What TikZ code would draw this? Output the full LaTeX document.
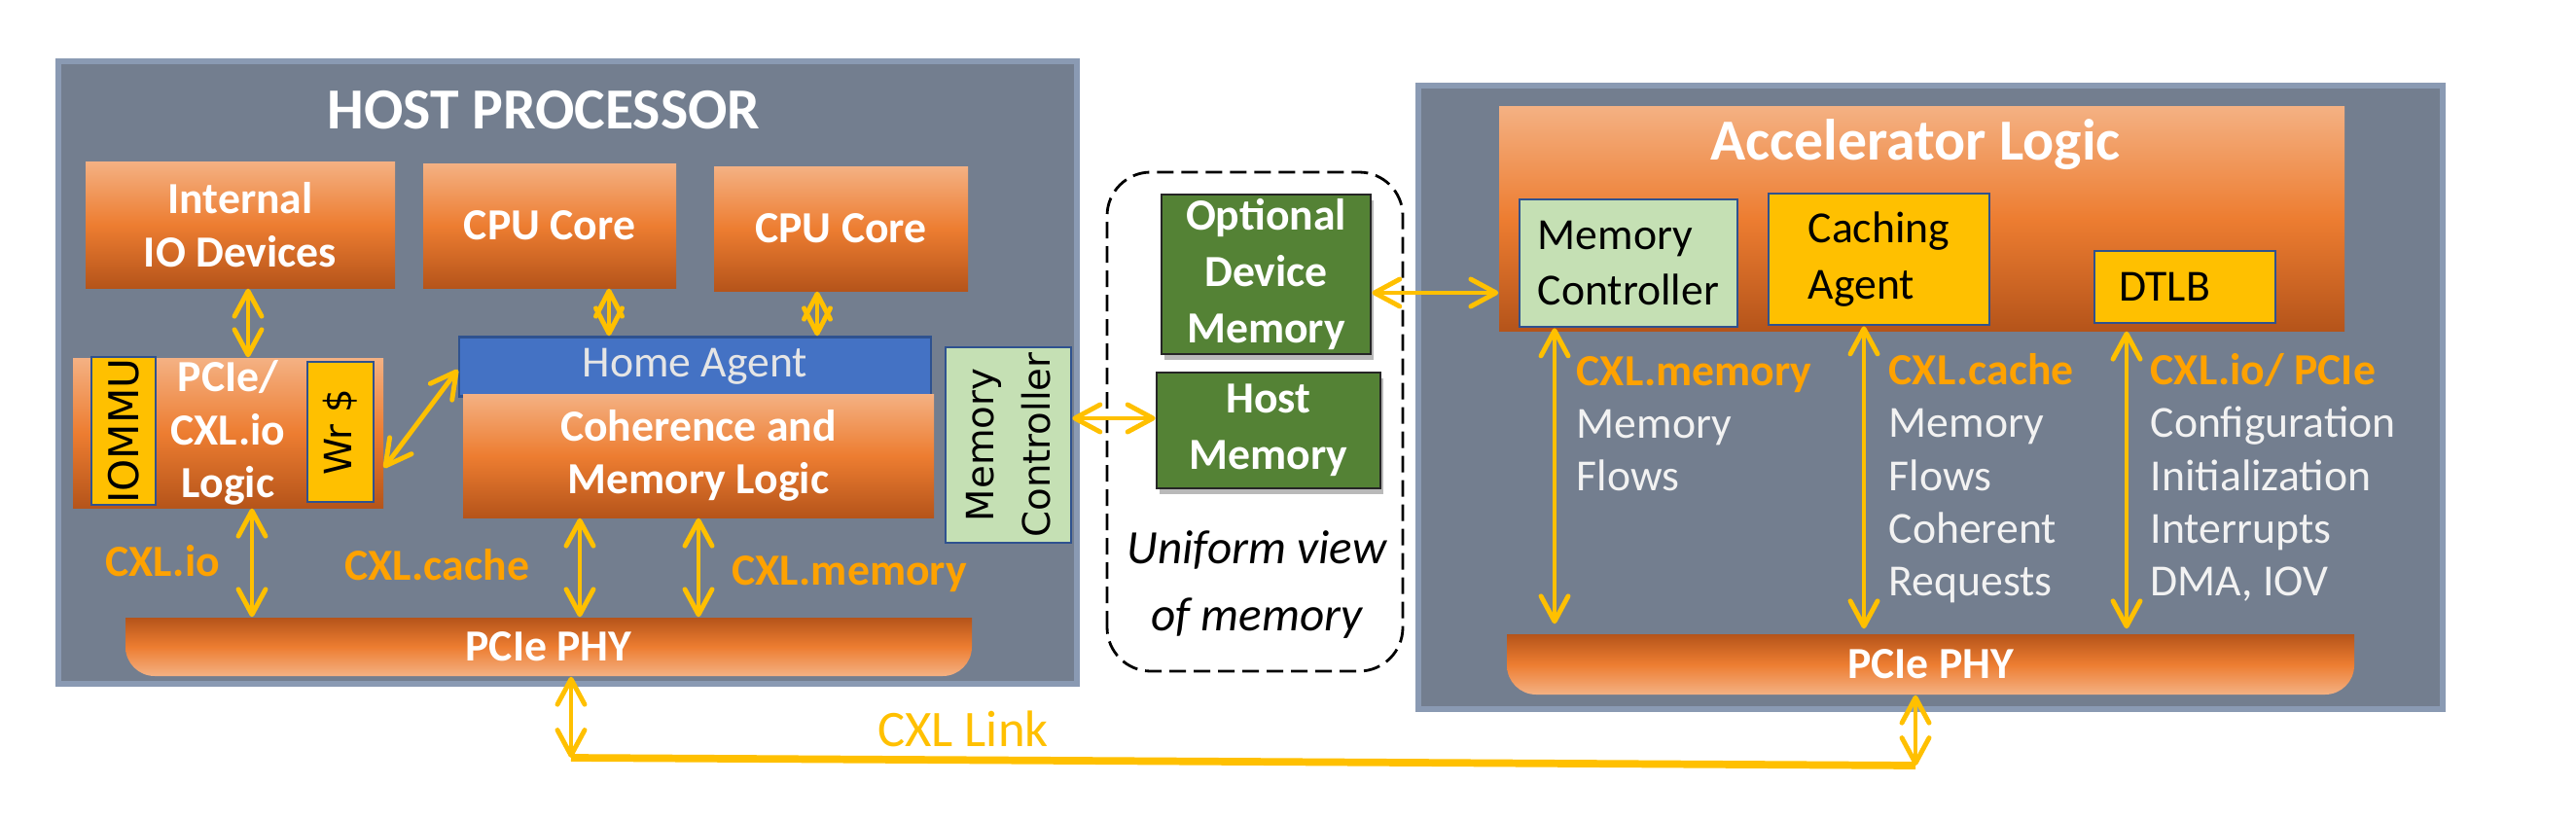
\documentclass[tikz,border=0pt]{standalone}
\usepackage{fontspec}
\setmainfont{Carlito}
\newfontfamily\vfont{DejaVu Sans}
\usetikzlibrary{arrows.meta,shadows}

\definecolor{panel}{HTML}{737E8F}
\definecolor{panelrim}{HTML}{8A9AB3}
\definecolor{otop}{HTML}{F4B183}
\definecolor{omid}{HTML}{ED7D31}
\definecolor{obot}{HTML}{B5541A}
\definecolor{haBlue}{HTML}{4472C4}
\definecolor{rim}{HTML}{2F528F}
\definecolor{gold}{HTML}{FFC000}
\definecolor{lblOrange}{HTML}{FFA200}
\definecolor{mint}{HTML}{C5E0B4}
\definecolor{leaf}{HTML}{548235}

\newcommand{\fs}[2]{\fontsize{#1}{#2}\selectfont}

\tikzset{
	wh/.style 2 args={minimum width=#1, minimum height=#2},
	panel/.style={fill=panel, draw=panelrim, line width=1.5pt, inner sep=0pt},
	obox/.style={top color=otop, bottom color=obot, middle color=omid, text=white, font=\bfseries\fs{13}{15.5}, align=center, inner sep=0pt},
	phyfill/.style={top color=obot, bottom color=otop, middle color=omid},
	ybox/.style={fill=gold, draw=rim, line width=0.8pt, inner sep=0pt, font=\fs{13}{16.5}},
	gbox/.style={fill=mint, draw=rim, line width=0.8pt, inner sep=0pt, font=\fs{13}{16.5}},
	mem/.style={fill=leaf, draw=black!85, line width=0.8pt, inner sep=0pt, text=white, font=\bfseries\fs{13}{16.5}, align=center, drop shadow={shadow xshift=0.03cm, shadow yshift=-0.06cm, opacity=0.55}},
	title/.style={text=white, font=\bfseries\fs{17}{17}, inner sep=0pt},
	lbl/.style={text=lblOrange, font=\bfseries\fs{13}{13}, inner sep=0pt},
	desc/.style={text=white!95!black, font=\fs{13}{15.4}, align=left, inner sep=0pt, anchor=north west},
	link/.style={draw=gold, line width=1.4pt, >={Straight Barb[length=2.6mm,width=2.8mm,round]}, <->},
	dlink/.style={draw=gold, line width=1.4pt, >={Straight Barb[length=2.6mm,width=2.7mm,round]}, <->}
}

\begin{document}
\begin{tikzpicture}
	\useasboundingbox (0,0) rectangle (26.48,8.42);
	% host processor
	\node (host) [panel, wh={10.47cm}{6.40cm}] at (5.835,4.59) {};
	\node (hosttitle) [title] at (5.59,7.29) {HOST PROCESSOR};
	\node (io) [obox, wh={3.18cm}{1.30cm}] at (2.47,6.11) {Internal\\IO Devices};
	\node (cpuA) [obox, wh={2.60cm}{1.28cm}] at (5.65,6.10) {CPU Core};
	\node (cpuB) [obox, wh={2.61cm}{1.28cm}] at (8.645,6.07) {CPU Core};
	\node (home) [fill=haBlue, draw=rim, line width=0.8pt, text=white!90!black, font=\fs{13}{13}, wh={4.85cm}{0.54cm}] at (7.145,4.65) {Home Agent};
	\node (coh) [obox, wh={4.84cm}{1.27cm}] at (7.18,3.735) {Coherence and\\Memory Logic};
	\node (logic) [obox, wh={3.19cm}{1.54cm}] at (2.345,3.97) {PCIe/\\CXL.io\\Logic};
	\node (iommu) [ybox, rotate=90, wh={1.52cm}{0.66cm}, font=\vfont\fs{12}{12}] at (1.27,3.99) {IOMMU};
	\node (wr) [ybox, rotate=90, wh={1.44cm}{0.68cm}, font=\vfont\fs{11}{11}] at (3.50,3.98) {Wr \$};
	\node (hostmc) [gbox, rotate=90, align=center, wh={2.01cm}{1.29cm}, font=\vfont\fs{11}{16.5}] at (10.365,3.845) {Memory\\Controller};
	\shade[phyfill] (1.29,2.07) -- (1.29,1.77) arc[start angle=180, end angle=270, radius=0.3] -- (9.69,1.47) arc[start angle=270, end angle=360, radius=0.3] -- (9.99,2.07) -- cycle;
	\node (hostphy) [text=white, font=\bfseries\fs{13}{13}, inner sep=0pt, wh={8.70cm}{0.60cm}] at (5.64,1.77) {PCIe PHY};
	%
	\draw[link] (2.55,0 |- io.south) -- (2.55,0 |- logic.north);
	\draw[dlink] (6.26,0 |- cpuA.south) -- (6.26,0 |- home.north);
	\draw[dlink] (8.40,0 |- cpuB.south) -- (8.40,0 |- home.north);
	\draw[link] ([yshift=-0.36cm]logic.east) -- ([yshift=-0.03cm]home.west);
	\draw[link] (2.59,0 |- logic.south) -- (2.59,0 |- hostphy.north);
	\draw[link] (5.96,0 |- coh.south) -- (5.96,0 |- hostphy.north);
	\draw[link] (coh.south) -- (coh.south |- hostphy.north);
	\node (lblio) [lbl] at (1.67,2.65) {CXL.io};
	\node (lblcache) [lbl] at (4.49,2.61) {CXL.cache};
	\node (lblmem) [lbl] at (8.73,2.52) {CXL.memory};
	% memory in the middle
	\draw[dashed, dash pattern=on 0.17cm off 0.08cm, line width=0.8pt, rounded corners=0.45cm] (11.38,1.52) rectangle (14.42,6.65);
	\node (optmem) [mem, wh={2.15cm}{1.64cm}] at (13.015,5.60) {Optional\\Device\\Memory};
	\node (hostmem) [mem, wh={2.30cm}{1.19cm}] at (13.04,3.995) {Host\\Memory};
	\node (view) [font=\itshape\fs{14}{19.6}, align=center, inner sep=0pt] at (12.92,2.41) {Uniform view\\of memory};
	\draw[link] (hostmc.south |- 0,4.12) -- (hostmem.west |- 0,4.12);
	% accelerator
	\node (acc) [panel, wh={10.53cm}{6.41cm}] at (19.845,4.335) {};
	\node (acclogic) [obox, wh={8.69cm}{2.31cm}] at (19.755,6.175) {};
	\node (acctitle) [title] at (19.69,6.93) {Accelerator Logic};
	\node (accmc) [gbox, align=left, wh={2.24cm}{1.31cm}] at (16.74,5.715) {Memory\\Controller};
	\node (caching) [ybox, align=left, wh={2.27cm}{1.35cm}] at (19.315,5.755) {Caching\\Agent};
	\node (dtlb) [ybox, align=left, text width=1.36cm, wh={1.86cm}{0.74cm}] at (22.46,5.47) {DTLB};
	\shade[phyfill] (15.49,1.90) -- (15.49,1.58) arc[start angle=180, end angle=270, radius=0.3] -- (23.90,1.28) arc[start angle=270, end angle=360, radius=0.3] -- (24.20,1.90) -- cycle;
	\node (accphy) [text=white, font=\bfseries\fs{13}{13}, inner sep=0pt, wh={8.71cm}{0.62cm}] at (19.845,1.59) {PCIe PHY};
	\draw[link] (optmem.east |- 0,5.41) -- (acclogic.west |- 0,5.41);
	%
	\draw[link] (15.98,0 |- accmc.south) -- ([yshift=0.1cm]15.98,0 |- accphy.north);
	\draw[link] (19.16,0 |- caching.south) -- ([yshift=0.05cm]19.16,0 |- accphy.north);
	\draw[link] (21.86,0 |- acclogic.south) -- ([yshift=0.05cm]21.86,0 |- accphy.north);
	\node (flowmem) [desc] at (16.20,4.76) {{\bfseries\color{lblOrange}CXL.memory}\\Memory\\Flows};
	\node (flowcache) [desc] at (19.41,4.79) {{\bfseries\color{lblOrange}CXL.cache}\\Memory\\Flows\\Coherent\\Requests};
	\node (flowio) [desc] at (22.10,4.79) {{\bfseries\color{lblOrange}CXL.io/ PCIe}\\Configuration\\Initialization\\Interrupts\\DMA, IOV};
	% link
	\coordinate (linkL) at (5.87,0.63);
	\coordinate (linkR) at (19.69,0.55);
	\draw[link] (linkL |- hostphy.south) -- (linkL);
	\draw[link] (linkR |- accphy.south) -- (linkR);
	\draw[gold, line width=2.2pt] (linkL) -- (linkR);
	\node (linklbl) [text=gold, font=\fs{15}{15}, inner sep=0pt] at (9.90,0.93) {CXL Link};
\end{tikzpicture}
\end{document}
